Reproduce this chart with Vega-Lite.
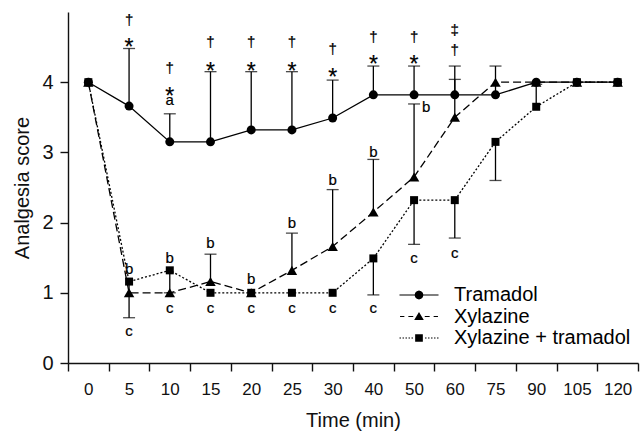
{
  "$schema": "https://vega.github.io/schema/vega-lite/v6.json",
  "autosize": "none",
  "width": 570,
  "height": 351,
  "padding": {"left": 68, "top": 12, "right": 4, "bottom": 69},
  "background": "white",
  "config": {
    "font": "Liberation Sans",
    "view": {"stroke": null},
    "axis": {"grid": false, "domainColor": "#111", "tickColor": "#111", "domainWidth": 1.4, "tickWidth": 1.4, "labelColor": "#111", "titleColor": "#111", "labelFont": "Liberation Sans", "titleFont": "Liberation Sans", "titleFontWeight": "normal"},
    "legend": {"labelFont": "Liberation Sans", "labelFontSize": 20, "labelColor": "black", "labelLimit": 300}
  },
  "datasets": {
    "d": [
      {"t": 0, "series": "Tramadol", "score": 4, "err": null},
      {"t": 5, "series": "Tramadol", "score": 3.66, "err": 4.48},
      {"t": 10, "series": "Tramadol", "score": 3.15, "err": 3.55},
      {"t": 15, "series": "Tramadol", "score": 3.15, "err": 4.15},
      {"t": 20, "series": "Tramadol", "score": 3.32, "err": 4.15},
      {"t": 25, "series": "Tramadol", "score": 3.32, "err": 4.15},
      {"t": 30, "series": "Tramadol", "score": 3.49, "err": 4.03},
      {"t": 40, "series": "Tramadol", "score": 3.82, "err": 4.23},
      {"t": 50, "series": "Tramadol", "score": 3.82, "err": 4.23},
      {"t": 60, "series": "Tramadol", "score": 3.82, "err": 4.23},
      {"t": 75, "series": "Tramadol", "score": 3.82, "err": 4.23},
      {"t": 90, "series": "Tramadol", "score": 4, "err": null},
      {"t": 105, "series": "Tramadol", "score": 4, "err": null},
      {"t": 120, "series": "Tramadol", "score": 4, "err": null},
      {"t": 0, "series": "Xylazine", "score": 4, "err": null},
      {"t": 5, "series": "Xylazine", "score": 1.0, "err": null},
      {"t": 10, "series": "Xylazine", "score": 1.0, "err": null},
      {"t": 15, "series": "Xylazine", "score": 1.16, "err": 1.55},
      {"t": 20, "series": "Xylazine", "score": 1.0, "err": null},
      {"t": 25, "series": "Xylazine", "score": 1.32, "err": 1.85},
      {"t": 30, "series": "Xylazine", "score": 1.66, "err": 2.47},
      {"t": 40, "series": "Xylazine", "score": 2.15, "err": 2.9},
      {"t": 50, "series": "Xylazine", "score": 2.65, "err": 3.69},
      {"t": 60, "series": "Xylazine", "score": 3.5, "err": 4.04},
      {"t": 75, "series": "Xylazine", "score": 4, "err": null},
      {"t": 90, "series": "Xylazine", "score": 4, "err": null},
      {"t": 105, "series": "Xylazine", "score": 4, "err": null},
      {"t": 120, "series": "Xylazine", "score": 4, "err": null},
      {"t": 0, "series": "Xylazine + tramadol", "score": 4, "err": null},
      {"t": 5, "series": "Xylazine + tramadol", "score": 1.16, "err": 0.645},
      {"t": 10, "series": "Xylazine + tramadol", "score": 1.32, "err": 1.0},
      {"t": 15, "series": "Xylazine + tramadol", "score": 1.0, "err": null},
      {"t": 20, "series": "Xylazine + tramadol", "score": 1.0, "err": null},
      {"t": 25, "series": "Xylazine + tramadol", "score": 1.0, "err": null},
      {"t": 30, "series": "Xylazine + tramadol", "score": 1.0, "err": null},
      {"t": 40, "series": "Xylazine + tramadol", "score": 1.49, "err": 0.97},
      {"t": 50, "series": "Xylazine + tramadol", "score": 2.32, "err": 1.69},
      {"t": 60, "series": "Xylazine + tramadol", "score": 2.32, "err": 1.78},
      {"t": 75, "series": "Xylazine + tramadol", "score": 3.15, "err": 2.6},
      {"t": 90, "series": "Xylazine + tramadol", "score": 3.65, "err": 3.97},
      {"t": 105, "series": "Xylazine + tramadol", "score": 4, "err": null},
      {"t": 120, "series": "Xylazine + tramadol", "score": 4, "err": null}
    ],
    "notes": [
      {"t": 5, "y": 4.49, "label": "*"},
      {"t": 5, "y": 4.88, "label": "†"},
      {"t": 10, "y": 3.74, "label": "a"},
      {"t": 10, "y": 3.79, "label": "*"},
      {"t": 10, "y": 4.2, "label": "†"},
      {"t": 15, "y": 4.15, "label": "*"},
      {"t": 15, "y": 4.57, "label": "†"},
      {"t": 20, "y": 4.15, "label": "*"},
      {"t": 20, "y": 4.57, "label": "†"},
      {"t": 25, "y": 4.15, "label": "*"},
      {"t": 25, "y": 4.57, "label": "†"},
      {"t": 30, "y": 4.065, "label": "*"},
      {"t": 30, "y": 4.47, "label": "†"},
      {"t": 40, "y": 4.24, "label": "*"},
      {"t": 40, "y": 4.64, "label": "†"},
      {"t": 50, "y": 4.24, "label": "*"},
      {"t": 50, "y": 4.64, "label": "†"},
      {"t": 60, "y": 4.46, "label": "†"},
      {"t": 60, "y": 4.75, "label": "‡"},
      {"t": 5, "y": 1.34, "label": "b"},
      {"t": 10, "y": 1.49, "label": "b"},
      {"t": 15, "y": 1.71, "label": "b"},
      {"t": 20, "y": 1.2, "label": "b"},
      {"t": 25, "y": 2.0, "label": "b"},
      {"t": 30, "y": 2.6, "label": "b"},
      {"t": 40, "y": 3.0, "label": "b"},
      {"t": 5, "y": 0.46, "label": "c"},
      {"t": 10, "y": 0.78, "label": "c"},
      {"t": 15, "y": 0.78, "label": "c"},
      {"t": 20, "y": 0.78, "label": "c"},
      {"t": 25, "y": 0.78, "label": "c"},
      {"t": 30, "y": 0.78, "label": "c"},
      {"t": 40, "y": 0.78, "label": "c"},
      {"t": 50, "y": 1.49, "label": "c"},
      {"t": 60, "y": 1.57, "label": "c"}
    ],
    "notes_r": [
      {"t": 50, "y": 3.64, "label": "b"}
    ]
  },
  "data": {"name": "d"},
  "encoding": {
    "x": {
      "field": "t", "type": "ordinal",
      "scale": {"type": "band", "domain": [0, 5, 10, 15, 20, 25, 30, 40, 50, 60, 75, 90, 105, 120], "paddingInner": 0, "paddingOuter": 0},
      "axis": {"title": "Time (min)", "labelAngle": 0, "tickBand": "extent", "tickSize": 8, "labelFontSize": 17, "labelPadding": 10, "titleFontSize": 20, "titlePadding": 13}
    },
    "y": {
      "field": "score", "type": "quantitative",
      "scale": {"domain": [0, 5], "nice": false, "zero": true},
      "axis": {"title": "Analgesia score", "values": [0, 1, 2, 3, 4], "tickSize": 8, "labelFontSize": 20, "labelPadding": 7, "titleFontSize": 20, "titlePadding": 9}
    }
  },
  "layer": [
    {
      "transform": [{"filter": "datum.series === 'Tramadol'"}],
      "mark": {"type": "line", "color": "black", "strokeWidth": 1.3}
    },
    {
      "transform": [{"filter": "datum.series === 'Xylazine'"}],
      "mark": {"type": "line", "color": "black", "strokeWidth": 1.3, "strokeDash": [8, 4]}
    },
    {
      "transform": [{"filter": "datum.series === 'Xylazine + tramadol'"}],
      "mark": {"type": "line", "color": "black", "strokeWidth": 1.3, "strokeDash": [2, 2]}
    },
    {
      "transform": [{"filter": "datum.err != null"}],
      "mark": {"type": "rule", "color": "black", "strokeWidth": 1.3},
      "encoding": {"y2": {"field": "err"}}
    },
    {
      "transform": [{"filter": "datum.err != null"}],
      "mark": {"type": "tick", "orient": "horizontal", "color": "black", "size": 12, "thickness": 1.3},
      "encoding": {"y": {"field": "err", "type": "quantitative"}}
    },
    {
      "transform": [{"filter": "datum.series === 'Tramadol'"}],
      "mark": {"type": "point", "shape": "circle", "filled": true, "color": "black", "size": 81, "opacity": 1}
    },
    {
      "transform": [{"filter": "datum.series === 'Xylazine'"}],
      "mark": {"type": "point", "shape": "triangle-up", "filled": true, "color": "black", "size": 110, "opacity": 1}
    },
    {
      "transform": [{"filter": "datum.series === 'Xylazine + tramadol'"}],
      "mark": {"type": "point", "shape": "square", "filled": true, "color": "black", "size": 64, "opacity": 1}
    },
    {
      "data": {"name": "notes"},
      "mark": {"type": "text", "color": "black", "baseline": "middle", "align": "center", "stroke": "black", "strokeWidth": 0.2},
      "encoding": {
        "y": {"field": "y", "type": "quantitative"},
        "text": {"field": "label"},
        "size": {"condition": {"test": "datum.label === '*'", "value": 23}, "value": 15}
      }
    },
    {
      "data": {"name": "notes_r"},
      "mark": {"type": "text", "color": "black", "baseline": "middle", "align": "center", "dx": 12, "fontSize": 15, "stroke": "black", "strokeWidth": 0.2},
      "encoding": {
        "y": {"field": "y", "type": "quantitative"},
        "text": {"field": "label"}
      }
    },
    {
      "mark": {"type": "point", "filled": true, "color": "black", "opacity": 0},
      "encoding": {
        "shape": {
          "field": "series", "type": "nominal",
          "scale": {
            "domain": ["Tramadol", "Xylazine", "Xylazine + tramadol"],
            "range": [
              "M-2.44,-0.075L-0.5,-0.075L-0.5,0.075L-2.44,0.075ZM0.5,-0.075L2.44,-0.075L2.44,0.075L0.5,0.075ZM0.55,0L0.476,0.275L0.275,0.476L0,0.55L-0.275,0.476L-0.476,0.275L-0.55,0L-0.476,-0.275L-0.275,-0.476L0,-0.55L0.275,-0.476L0.476,-0.275Z",
              "M-2.37,-0.075L-1.83,-0.075L-1.83,0.075L-2.37,0.075ZM-1.33,-0.075L-0.72,-0.075L-0.72,0.075L-1.33,0.075ZM0.72,-0.075L1.33,-0.075L1.33,0.075L0.72,0.075ZM1.83,-0.075L2.37,-0.075L2.37,0.075L1.83,0.075ZM0,-0.55L0.6,0.45L-0.6,0.45Z",
              "M-2.44,-0.07L-2.25,-0.07L-2.25,0.07L-2.44,0.07ZM-2.06,-0.07L-1.87,-0.07L-1.87,0.07L-2.06,0.07ZM-1.69,-0.07L-1.5,-0.07L-1.5,0.07L-1.69,0.07ZM-1.31,-0.07L-1.12,-0.07L-1.12,0.07L-1.31,0.07ZM-0.94,-0.07L-0.75,-0.07L-0.75,0.07L-0.94,0.07ZM0.75,-0.07L0.94,-0.07L0.94,0.07L0.75,0.07ZM1.12,-0.07L1.31,-0.07L1.31,0.07L1.12,0.07ZM1.5,-0.07L1.69,-0.07L1.69,0.07L1.5,0.07ZM1.87,-0.07L2.06,-0.07L2.06,0.07L1.87,0.07ZM2.25,-0.07L2.44,-0.07L2.44,0.07L2.25,0.07ZM-0.48,-0.48L0.48,-0.48L0.48,0.48L-0.48,0.48Z"
            ]
          },
          "legend": {
            "title": null, "orient": "none", "legendX": 341, "legendY": 273,
            "symbolSize": 256, "symbolOpacity": 1, "symbolFillColor": "black", "symbolStrokeWidth": 0,
            "labelOffset": 25, "rowPadding": 1.5,
            "encode": {
              "symbols": {
                "update": {
                  "fill": {"value": "black"},
                  "opacity": {"value": 1},
                  "fillOpacity": {"value": 1}
                }
              }
            }
          }
        }
      }
    }
  ]
}
